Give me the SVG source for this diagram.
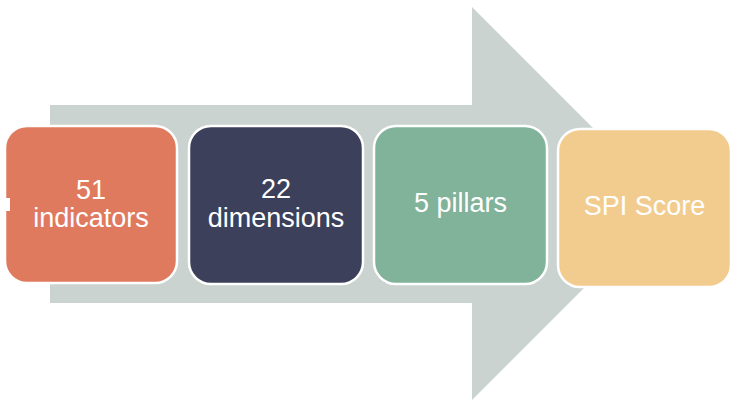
<svg xmlns="http://www.w3.org/2000/svg" width="740" height="410" viewBox="0 0 740 410">
<style>
.box{stroke:#ffffff;stroke-width:2.5}
.t{font-family:"Liberation Sans",Arial,sans-serif;font-size:27px;fill:#ffffff;text-anchor:middle}
</style>
<rect x="0" y="0" width="740" height="410" fill="#ffffff"/>
<g id="arrow">
<path d="M50,105 H472 V7 L668.5,203.5 L472,400 V303 H50 Z" fill="#CAD3D0"/>
</g>
<g id="connectors"></g>
<g id="n1">
<rect class="box" x="5" y="126" width="172" height="157" rx="22" fill="#E07A5F"/>
<rect x="0" y="198" width="10" height="13" fill="#ffffff"/>
<text class="t" x="91" y="199">51</text>
<text class="t" x="91" y="227">indicators</text>
</g>
<g id="n2">
<rect class="box" x="189" y="126" width="174" height="158" rx="22" fill="#3D405B"/>
<text class="t" x="276" y="198">22</text>
<text class="t" x="276" y="227">dimensions</text>
</g>
<g id="n3">
<rect class="box" x="374" y="126" width="173" height="158" rx="22" fill="#81B29A"/>
<text class="t" x="460.5" y="212">5 pillars</text>
</g>
<g id="n4">
<rect class="box" x="558" y="129" width="173" height="158" rx="22" fill="#F2CC8F"/>
<text class="t" x="644.5" y="215">SPI Score</text>
</g>
</svg>
